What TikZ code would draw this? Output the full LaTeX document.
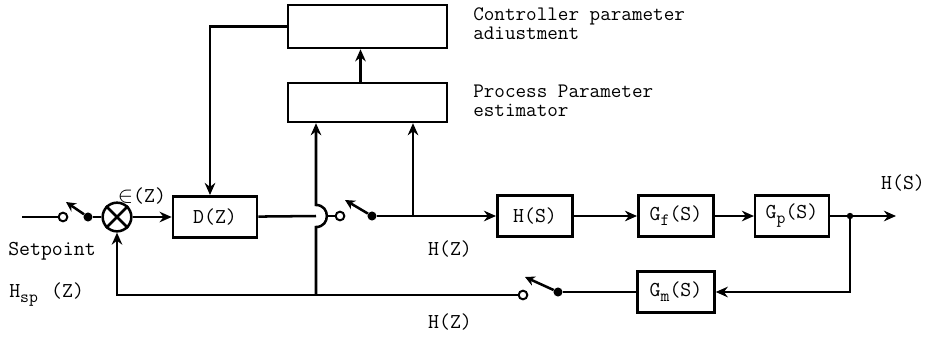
\documentclass[tikz,border=0pt]{standalone}
\usepackage{fontspec}
\usetikzlibrary{arrows.meta, positioning, calc}
\newcommand{\diagfont}{\ttfamily\fontsize{16}{14}\selectfont}
\newcommand{\notefont}{\ttfamily\fontsize{15.5}{14.5}\selectfont}
\newcommand{\lowsub}[1]{\raisebox{-0.55ex}{\fontsize{13}{13}\selectfont #1}}
\tikzset{
	blk/.style   ={rectangle, draw=black, line width=1.9pt, minimum width=2.0cm, minimum height=1.1cm, inner sep=0pt, font=\diagfont},
	sig/.style   ={-{Stealth[length=3.2mm, width=2.8mm]}, line width=1.9pt},
	wire/.style  ={line width=1.9pt},
	% switch parts
	swopen/.style={circle, draw=black, line width=1.5pt, fill=white, minimum size=2.3mm, inner sep=0pt},
	swdot/.style ={circle, fill=black, minimum size=2.4mm, inner sep=0pt},
	swarm/.style ={-{Stealth[length=2.6mm, width=2.6mm]}, line width=1.9pt},
	lbl/.style   ={font=\diagfont, inner sep=0pt},
	note/.style  ={font=\notefont, inner sep=0pt, anchor=west, align=left},
}
\begin{document}
\begin{tikzpicture}[x=0.0265cm, y=-0.0265cm]
	\useasboundingbox (0,0) rectangle (929,336);
	% adaptive part
	\node[blk, minimum width=4.21cm, minimum height=1.14cm] (ctrl) at (367.5,26.5) {};
	\node[blk, minimum width=4.21cm, minimum height=1.03cm] (est) at (367.5,102.5) {};
	\node[note] (ctrltxt) at (473,24) {Controller parameter\\adiustment};
	\node[note] (esttxt) at (473,101) {Process Parameter\\estimator};
	% forward path
	\node[circle, draw=black, line width=1.9pt, minimum size=0.76cm, inner sep=0pt] (sum) at (117,217) {};
	\draw[wire] (sum.north west) -- (sum.south east) (sum.north east) -- (sum.south west);
	\node[blk, minimum width=2.23cm] (dz) at (215,217) {D(Z)};
	\node[blk] (hs) at (535,216) {H(S)};
	\node[blk] (gf) at (676,216) {G\lowsub{f}(S)};
	\node[blk, minimum width=1.95cm] (gp) at (792,216) {G\lowsub{p}(S)};
	\node[blk, minimum width=2.04cm] (gm) at (676,292) {G\lowsub{m}(S)};
	% labels
	\node[lbl] (eps) at (142,196) {$\in$(Z)};
	\node[lbl, anchor=west] (setp) at (8,251) {Setpoint};
	\node[lbl, anchor=west] (hsp) at (9,295) {H\lowsub{sp}\hspace{10pt}(Z)};
	\node[lbl] (hzm) at (450,249) {H(Z)};
	\node[lbl] (hzb) at (450,322) {H(Z)};
	\node[lbl] (hso) at (903,183) {H(S)};
	% switches
	\coordinate (in) at (22,217);
	\node[swopen] (s1a) at (63,217) {};
	\node[swdot] (s1b) at (88,217) {};
	\coordinate (s1t) at (66,202);
	\node[swopen] (s2a) at (340,216) {};
	\node[swdot] (s2b) at (372,216) {};
	\coordinate (s2t) at (345,200);
	\node[swopen] (s3a) at (523,295) {};
	\node[swdot] (s3b) at (558,292) {};
	\coordinate (s3t) at (525,277);
	% helper points
	\coordinate (hb) at (316,216);
	\coordinate (hr) at (327,216);
	\coordinate (jb) at (316,295);
	\coordinate (jt) at (413,216);
	\node[swdot, minimum size=1.7mm] (jo) at (850,216) {};
	\coordinate (out) at (896,216);
	\coordinate (dzin) at ($(dz.north)+(-5,0)$);
	\coordinate (estout) at ($(est.north)+(-7,0)$);
	% connections
	\draw[wire] (in) -- (s1a);
	\draw[swarm] (s1b) -- (s1t);
	\draw[wire] (s1b) -- (sum);
	\draw[sig] (sum) -- (dz);
	\draw[wire] (dz) -- (hb);
	\draw[sig] (jb) -- (316,227) .. controls (330.5,227) and (330.5,205) .. (316,205) -- (est.south -| jb);
	\draw[wire] (hr) -- (s2a);
	\draw[swarm] (s2b) -- (s2t);
	\draw[sig] (s2b) -- (hs);
	\draw[sig] (jt) -- (jt |- est.south);
	\draw[sig] (hs) -- (gf);
	\draw[sig] (gf) -- (gp);
	\draw[wire] (gp) -- (jo);
	\draw[sig] (jo) -- (out);
	\draw[sig] (jo) |- (gm);
	\draw[wire] (gm) -- (s3b);
	\draw[swarm] (s3b) -- (s3t);
	\draw[sig] (s3a) -| (sum);
	\draw[sig] (estout) -- (estout |- ctrl.south);
	\draw[sig] (ctrl.west) -| (dzin);
\end{tikzpicture}
\end{document}
